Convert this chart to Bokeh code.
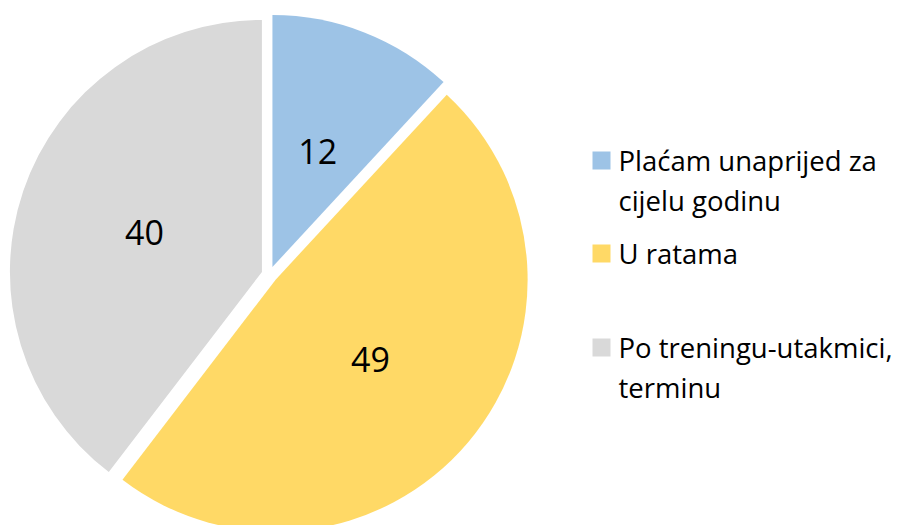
import math
from bokeh.plotting import figure
from bokeh.models import Range1d, ColumnDataSource
from bokeh.core.properties import value
from bokeh.embed import file_html
from bokeh.resources import INLINE

# ---- data ----
categories = ["Plaćam unaprijed za\ncijelu godinu", "U ratama", "Po treningu-utakmici,\nterminu"]
values = [12, 49, 40]
colors = ["#9DC3E6", "#FFD966", "#D9D9D9"]

# ---- layout constants (screen pixels of the page) ----
W, H = 901, 525
PAGE_H = 525
def sy(y):
    return PAGE_H - y

cx, cy = 269, sy(274)
R = 252
EXPLODE = 8
LABEL_R = 132
FONT = "Open Sans"

p = figure(width=W, height=H, output_backend="svg", toolbar_location=None,
           x_range=Range1d(0, W), y_range=Range1d(0, H),
           min_border=0)
p.axis.visible = False
p.grid.visible = False
p.outline_line_color = None
p.background_fill_color = "white"

total = sum(values)
cum = 0
wx, wy, st, en, lx, ly = [], [], [], [], [], []
for v in values:
    a0 = math.pi / 2 - 2 * math.pi * cum / total
    a1 = math.pi / 2 - 2 * math.pi * (cum + v) / total
    m = (a0 + a1) / 2
    wx.append(cx + EXPLODE * math.cos(m))
    wy.append(cy + EXPLODE * math.sin(m))
    st.append(a1)
    en.append(a0)
    lx.append(cx + LABEL_R * math.cos(m))
    ly.append(cy + LABEL_R * math.sin(m))
    cum += v

src = ColumnDataSource(dict(x=wx, y=wy, start=st, end=en, color=colors,
                            lx=lx, ly=ly, txt=[str(v) for v in values]))
p.wedge(x="x", y="y", radius=R, start_angle="start", end_angle="end",
        direction="anticlock", fill_color="color", line_color=None, source=src)
p.text(x="lx", y="ly", text="txt", source=src, text_align="center",
       text_baseline="middle", text_font=value(FONT), text_font_size="34px",
       text_color="black")

# ---- legend (manual) ----
leg_x_marker = 601
leg_x_text = 618
first_baselines = [169, 262, 356]
line_gap = 40
text_shift = -9
mx, my, tx, ty, tt = [], [], [], [], []
for cat, base in zip(categories, first_baselines):
    mx.append(leg_x_marker)
    my.append(sy(base - 9))
    for i, line in enumerate(cat.split("\n")):
        tx.append(leg_x_text)
        ty.append(sy(base + text_shift + i * line_gap))
        tt.append(line)
p.rect(x=mx, y=my, width=18, height=18, fill_color=colors, line_color=None)
p.text(x=tx, y=ty, text=tt, text_align="left", text_baseline="alphabetic",
       text_font=value(FONT), text_font_size="27.5px", text_color="black")

open("out.html", "w").write(file_html(p, INLINE))
